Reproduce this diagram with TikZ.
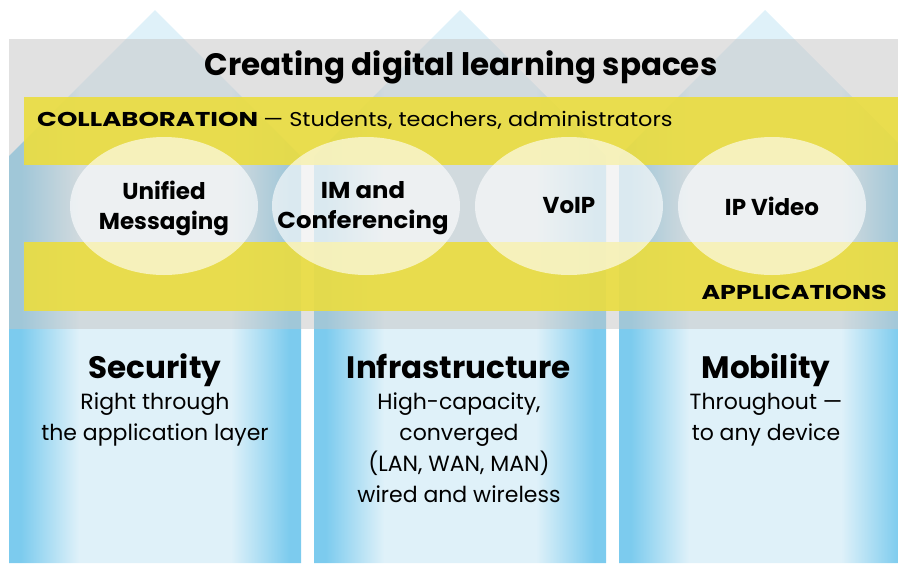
\documentclass[tikz,border=0pt]{standalone}
\usepackage{fontspec}
\setmainfont{Poppins}
\usetikzlibrary{shapes.geometric}
\definecolor{pblue}{HTML}{7CCBEE}
\definecolor{plight}{HTML}{DFF1F9}
\definecolor{bandgray}{HTML}{C4C4C4}
\definecolor{bandyellow}{HTML}{EBDD3E}
\pgfdeclarehorizontalshading{pillarshade}{100bp}{color(0bp)=(pblue); color(25bp)=(pblue); color(27bp)=(pblue); color(37bp)=(plight); color(63bp)=(plight); color(73bp)=(pblue); color(75bp)=(pblue); color(100bp)=(pblue)}
\tikzset{
  pillar/.style={shading=pillarshade},
  grayband/.style={fill=bandgray, fill opacity=0.5},
  yband/.style={fill=bandyellow, fill opacity=0.9},
  app/.style={ellipse, fill=white, fill opacity=0.62, minimum width=188pt, minimum height=138pt, inner sep=0pt},
  apptext/.style={inner sep=0pt, align=center, font=\fontsize{23}{30}\selectfont\bfseries},
  titletext/.style={inner sep=0pt, font=\fontsize{31}{36}\selectfont\bfseries},
  bandtext/.style={inner sep=0pt, font=\fontsize{20}{24}\selectfont},
  headtext/.style={inner sep=0pt, font=\fontsize{31}{36}\selectfont\bfseries},
  desctext/.style={inner sep=0pt, align=center, font=\fontsize{22}{31}\selectfont},
}
\begin{document}
\begin{tikzpicture}[x=1pt,y=-1pt]
\useasboundingbox (0,0) rectangle (898,563);
\clip (0,0) rectangle (898,563);
% pillars
\shade[pillar] (9,563) -- (9,156) -- (155,10) -- (301,156) -- (301,563) -- cycle;
\shade[pillar] (314,563) -- (314,156) -- (460,10) -- (606,156) -- (606,563) -- cycle;
\shade[pillar] (619,563) -- (619,156) -- (765,10) -- (911,156) -- (911,563) -- cycle;
% gray band
\fill[grayband] (9,39) rectangle (898,329);
% yellow bands
\fill[yband] (24,97) rectangle (898,165);
\fill[yband] (24,242) rectangle (898,311);
% title
\node[titletext, anchor=base] (title) at (461,75) {Creating digital learning spaces};
\node[bandtext, anchor=base west] (collab) at (37,126) {\scalebox{1.3}[1]{\bfseries COLLABORATION}\ \scalebox{1.12}[1]{— Students, teachers, administrators}};
\node[bandtext, anchor=base east] (apps) at (887,299) {\scalebox{1.27}[1]{\bfseries APPLICATIONS}};
% applications
\node[app] (um) at (164,206) {};
\node[app] (im) at (366,206) {};
\node[app] (voip) at (569,206) {};
\node[app] (ipv) at (772,206) {};
\node[apptext] (umt) at ([yshift=-2pt]um.center) {Unified\\Messaging};
\node[apptext] (imt) at ([xshift=-3pt,yshift=-2pt]im.center) {\scalebox{1.06}[1]{IM and}\\\scalebox{1.06}[1]{Conferencing}};
\node[apptext] (voipt) at (voip.center) {VoIP};
\node[apptext] (ipvt) at (ipv.center) {IP Video};
% pillar headings
\node[headtext, anchor=base] (sec) at (155,378) {Security};
\node[headtext, anchor=base] (inf) at (459,378) {Infrastructure};
\node[headtext, anchor=base] (mob) at (766,378) {Mobility};
\node[desctext, anchor=base] (secd) at (155,440) {Right through\\the application layer};
\node[desctext, anchor=base] (infd) at (459,502) {High-capacity,\\converged\\(LAN, WAN, MAN)\\wired and wireless};
\node[desctext, anchor=base] (mobd) at (766,440) {Throughout —\\to any device};
\end{tikzpicture}
\end{document}
